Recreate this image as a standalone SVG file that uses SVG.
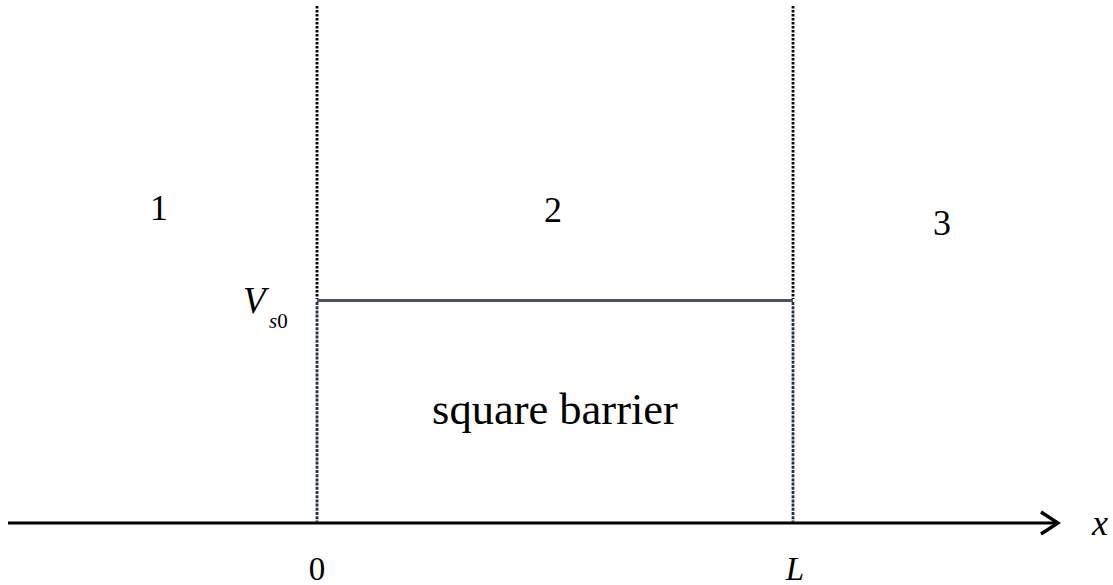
<svg xmlns="http://www.w3.org/2000/svg" width="1113" height="585" viewBox="0 0 1113 585">
<style>
.t{font-family:"Liberation Serif","Times New Roman",serif;fill:#000}
.dot{stroke:#000;stroke-width:2.8;stroke-dasharray:2.4 1.6;fill:none}
.side{stroke:#1F2F4F;stroke-width:2.8;stroke-dasharray:3 1.2;fill:none}
</style>
<defs>
<marker id="arr" markerWidth="22" markerHeight="26" refX="19" refY="13" orient="auto" markerUnits="userSpaceOnUse">
<path d="M2,2 L19,13 L2,24" fill="none" stroke="#000" stroke-width="3.4"/>
</marker>
</defs>
<rect width="1113" height="585" fill="#fff"/>
<g id="connectors">
<line class="dot" x1="317" y1="6" x2="317" y2="299"/>
<line class="dot" x1="793" y1="6" x2="793" y2="299"/>
<line id="axis" x1="8" y1="523" x2="1058" y2="523" stroke="#000" stroke-width="3" marker-end="url(#arr)"/>
</g>
<g id="barrier">
<line x1="317" y1="300.5" x2="793" y2="300.5" stroke="#44546A" stroke-width="3.2"/>
<line class="side" x1="317" y1="302" x2="317" y2="522"/>
<line class="side" x1="793" y1="302" x2="793" y2="522"/>
<text class="t" x="555" y="424" font-size="44.5" text-anchor="middle">square barrier</text>
</g>
<g id="regions">
<text class="t" x="159" y="220" font-size="36" text-anchor="middle">1</text>
<text class="t" x="553" y="222" font-size="36" text-anchor="middle">2</text>
<text class="t" x="942" y="235" font-size="36" text-anchor="middle">3</text>
</g>
<g id="labels">
<text class="t" x="243" y="313" font-size="37" font-style="italic">V</text>
<text class="t" x="269" y="328" font-size="21"><tspan font-style="italic">s</tspan>0</text>
<text class="t" x="317" y="580" font-size="33" text-anchor="middle">0</text>
<text class="t" x="795" y="580" font-size="33" font-style="italic" text-anchor="middle">L</text>
<text class="t" x="1100" y="535" font-size="36" font-style="italic" text-anchor="middle">x</text>
</g>
</svg>
